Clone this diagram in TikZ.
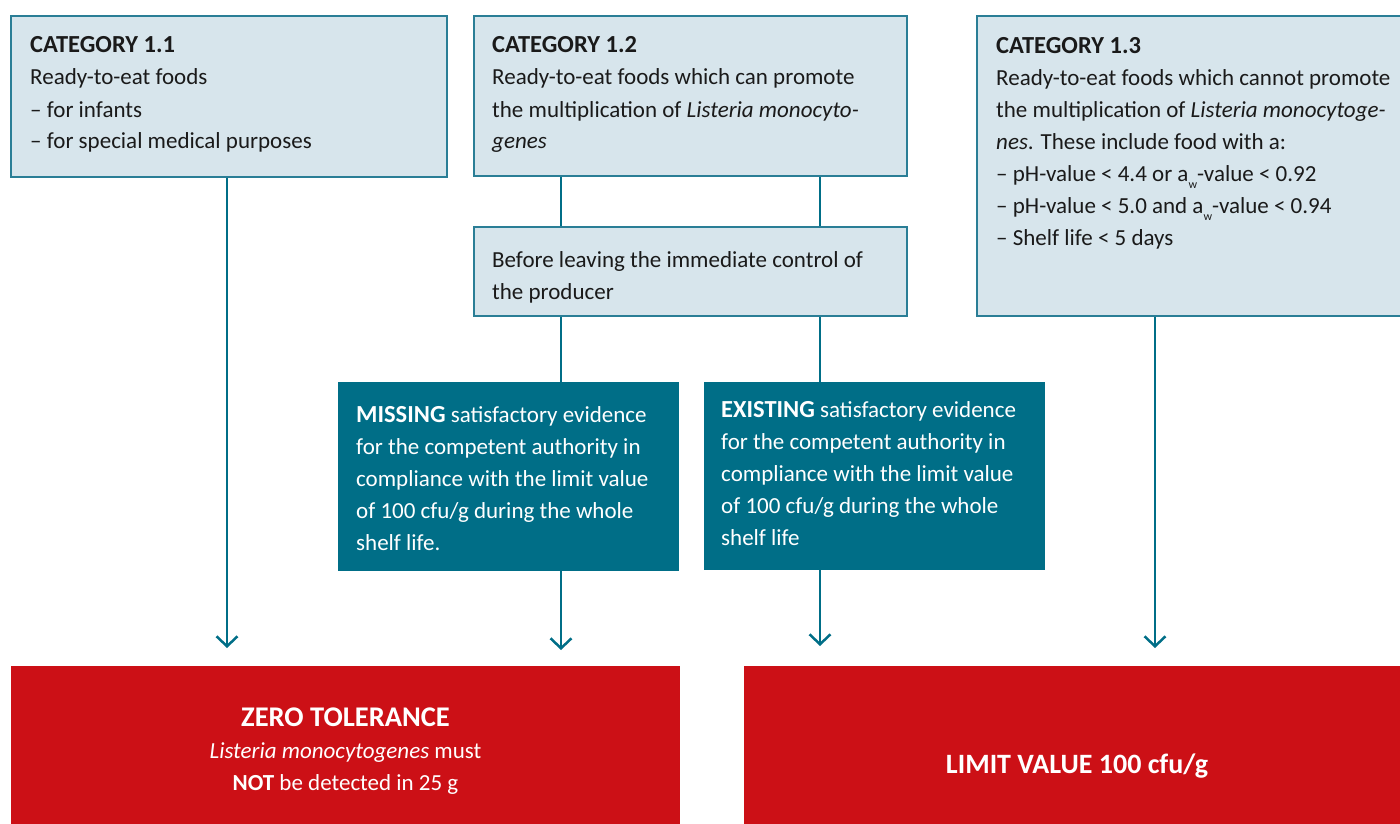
\documentclass[tikz,border=0pt]{standalone}
\usepackage{fontspec}
\setmainfont{Carlito}
\usetikzlibrary{arrows.meta,fit}

\definecolor{lightfill}{RGB}{215,229,236}
\definecolor{edgeteal}{RGB}{42,126,150}
\definecolor{darkteal}{RGB}{0,110,135}
\definecolor{alertred}{RGB}{204,16,22}
\definecolor{bodytext}{RGB}{26,26,26}

% lowered subscript w used in a_w
\newcommand\subw{\raisebox{-7pt}{\fontsize{12}{12}\selectfont w}}
% bold lead words, set a little larger than the body text
\newcommand\lead[1]{{\fontsize{24.5}{32}\selectfont\bfseries #1}}

% multi-line nodes sit on the baseline of their last line
\tikzset{
  lightbox/.style={draw=edgeteal, line width=1.5pt, fill=lightfill, inner sep=0pt},
  darkbox/.style={fill=darkteal, inner sep=0pt},
  redbox/.style={fill=alertred, inner sep=0pt},
  bodytxt/.style={font=\fontsize{23}{32}\selectfont, text=bodytext, align=left, inner sep=0pt, anchor=base west},
  whitetxt/.style={bodytxt, text=white},
  headtxt/.style={font=\fontsize{23}{32}\selectfont, text=white, align=center, inner sep=0pt, anchor=base},
  link/.style={draw=darkteal, line width=2.5pt},
  arrowlink/.style={link, -{Straight Barb[length=10pt,width=21pt]}},
}

\begin{document}
\begin{tikzpicture}[x=1pt,y=-1pt]
\useasboundingbox (0,0) rectangle (1400,824);
\clip (0,0) rectangle (1400,824);

% boxes
\node[lightbox, fit={(11,16) (447,177)}] (c11) {};
\node[lightbox, fit={(474,16) (907,176)}] (c12) {};
\node[lightbox, fit={(474,227) (907,316)}] (ctrl) {};
\node[lightbox, fit={(977,16) (1405,316)}] (c13) {};
\node[darkbox, fit={(338,382) (679,571)}] (miss) {};
\node[darkbox, fit={(704,382) (1045,570)}] (exist) {};
\node[redbox, fit={(11,666) (680,830)}] (zero) {};
\node[redbox, fit={(744,666) (1405,830)}] (limit) {};

% texts
\node[bodytxt] (c11t) at (30,149) {\lead{CATEGORY 1.1}\\Ready-to-eat foods\\– for infants\\– for special medical purposes};
\node[bodytxt] (c12t) at (492,149) {\lead{CATEGORY 1.2}\\Ready-to-eat foods which can promote\\the multiplication of \textit{Listeria monocyto-}\\\textit{genes}};
\node[bodytxt] (ctrlt) at (492,299) {Before leaving the immediate control of\\the producer};
\node[bodytxt] (c13t) at (996,245) {\lead{CATEGORY 1.3}\\Ready-to-eat foods which cannot promote\\the multiplication of \textit{Listeria monocytoge-}\\\textit{nes}. These include food with a:\\– pH-value < 4.4 or a\subw-value < 0.92\\– pH-value < 5.0 and a\subw-value < 0.94\\– Shelf life < 5 days};
\node[whitetxt] (misst) at (356,550) {\lead{MISSING} satisfactory evidence\\for the competent authority in\\compliance with the limit value\\of 100 cfu/g during the whole\\shelf life.};
\node[whitetxt] (existt) at (721,545) {\lead{EXISTING} satisfactory evidence\\for the competent authority in\\compliance with the limit value\\of 100 cfu/g during the whole\\shelf life};
\node[headtxt] (zerot) at (345.5,790) {{\fontsize{28.5}{31}\selectfont\bfseries ZERO TOLERANCE}\\\textit{Listeria monocytogenes} must\\\textbf{NOT} be detected in 25 g};
\node[headtxt] (limitt) at (1077,773) {\fontsize{28}{32}\selectfont\bfseries LIMIT VALUE 100 cfu/g};

% connector columns and arrow ends
\coordinate (xl) at (561,0);
\coordinate (xr) at (820,0);
\coordinate (t1) at (227,648);
\coordinate (t2) at (561,650);
\coordinate (t3) at (820,646);
\coordinate (t4) at (1155,648);

\draw[link] (c12.south -| xl) -- (ctrl.north -| xl);
\draw[link] (c12.south -| xr) -- (ctrl.north -| xr);
\draw[link] (ctrl.south -| xl) -- (miss.north -| xl);
\draw[link] (ctrl.south -| xr) -- (exist.north -| xr);
\draw[arrowlink] (c11.south -| t1) -- (t1);
\draw[arrowlink] (miss.south -| t2) -- (t2);
\draw[arrowlink] (exist.south -| t3) -- (t3);
\draw[arrowlink] (c13.south -| t4) -- (t4);
\end{tikzpicture}
\end{document}
